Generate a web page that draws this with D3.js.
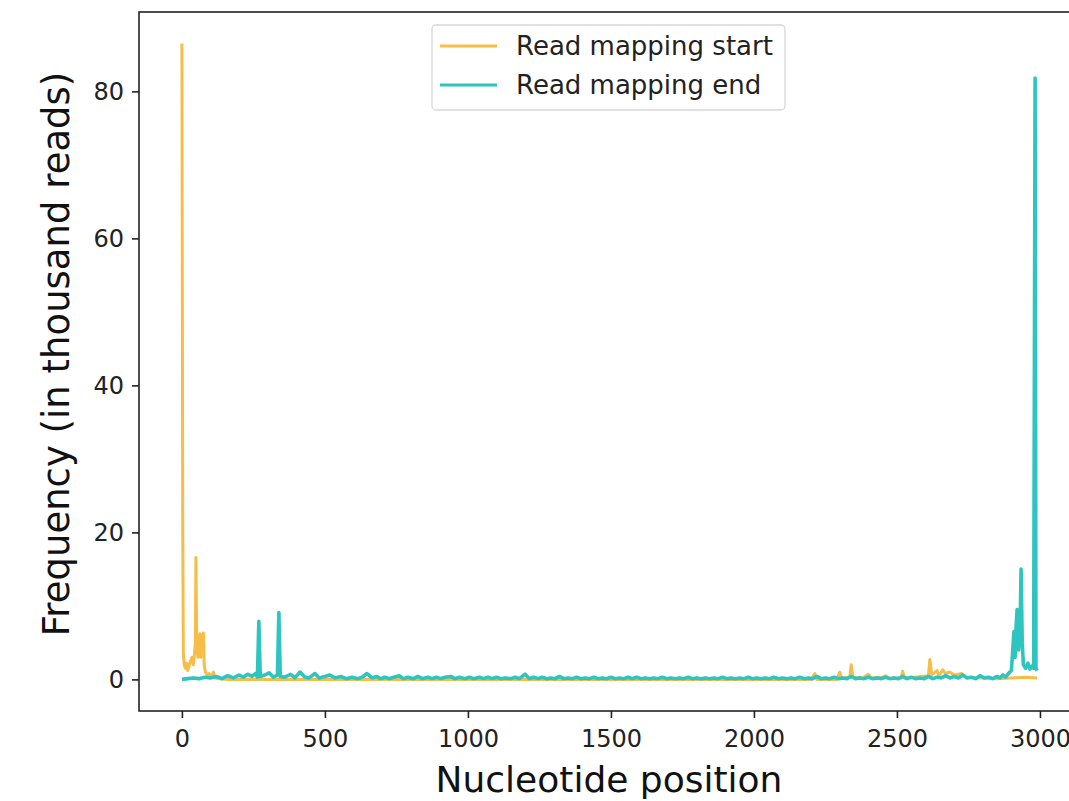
<!DOCTYPE html>
<html>
<head>
<meta charset="utf-8">
<script src="https://cdn.jsdelivr.net/npm/d3@7"></script>
<style>
  body { margin: 0; background: #fff; }
  svg { display: block; font-family: "DejaVu Sans", sans-serif; }
</style>
</head>
<body>
<div id="chart"></div>
<script>
// Read counts (thousand reads) by nucleotide position
const startSeries = [
  [0, 86.5], [3, 20], [5, 3.5], [8, 2.0], [12, 1.5], [16, 2.2], [20, 1.2], [25, 1.8],
  [30, 2.5], [35, 3.0], [40, 2.0], [44, 3.5], [47, 5.0], [49, 16.6], [52, 4.5], [56, 3.0],
  [60, 5.5], [63, 6.2], [66, 3.0], [69, 6.0], [72, 4.0], [75, 6.3], [78, 2.0], [82, 1.0],
  [88, 0.6], [95, 0.8], [102, 0.3], [110, 1.0], [115, 0.2], [130, 0.1], [160, 0],
  [2200, 0], [2213, 0.8], [2220, 0], [2290, 0], [2300, 1.0], [2306, 0.2], [2335, 0.3],
  [2340, 2.0], [2346, 0.3], [2380, 0.2], [2400, 0.7], [2410, 0.2], [2450, 0.3], [2460, 0.5],
  [2470, 0.2], [2515, 0.2], [2520, 1.1], [2526, 0.2], [2560, 0.3], [2610, 0.5], [2615, 2.7],
  [2622, 0.6], [2640, 1.2], [2647, 0.5], [2660, 1.3], [2670, 0.8], [2685, 1.0], [2700, 0.6],
  [2727, 0.8], [2740, 0.3], [2800, 0.2], [2850, 0.1], [2900, 0.2], [2950, 0.3], [2990, 0.2]
];

const endSeries = [
  [0, 0], [20, 0.1], [40, 0.2], [60, 0.1], [80, 0.3], [100, 0.2], [120, 0.4], [140, 0.1],
  [160, 0.5], [180, 0.2], [200, 0.6], [215, 0.3], [230, 0.7], [245, 0.4], [258, 0.8], [264, 0.3],
  [269, 7.9], [274, 0.4], [290, 0.6], [305, 0.9], [320, 0.3], [334, 0.6], [339, 9.1], [344, 0.4],
  [360, 0.3], [380, 0.7], [395, 0.2], [413, 1.0], [430, 0.3], [445, 0.2], [465, 0.8], [480, 0.2],
  [500, 0.4], [517, 0.6], [535, 0.2], [555, 0.4], [575, 0.1], [595, 0.3], [615, 0.1], [630, 0.3],
  [647, 0.8], [665, 0.2], [680, 0.4], [695, 0.1], [710, 0.3], [725, 0.1], [740, 0.3], [760, 0.5],
  [775, 0.1], [790, 0.3], [810, 0.1], [825, 0.4], [840, 0.1], [860, 0.3], [875, 0.1], [890, 0.3],
  [905, 0.1], [920, 0.3], [940, 0.4], [955, 0.1], [970, 0.3], [990, 0.1], [1005, 0.3], [1020, 0.1],
  [1040, 0.3], [1055, 0.1], [1070, 0.3], [1085, 0.1], [1100, 0.3], [1115, 0.1], [1130, 0.2],
  [1150, 0.1], [1165, 0.3], [1180, 0.1], [1200, 0.7], [1215, 0.1], [1230, 0.3], [1245, 0.1],
  [1260, 0.3], [1275, 0.1], [1290, 0.2], [1305, 0.1], [1320, 0.4], [1335, 0.1], [1350, 0.2],
  [1365, 0.1], [1380, 0.3], [1395, 0.1], [1410, 0.2], [1425, 0.1], [1440, 0.3], [1455, 0.1],
  [1470, 0.2], [1485, 0.1], [1500, 0.3], [1515, 0.1], [1530, 0.2], [1545, 0.1], [1560, 0.3],
  [1575, 0.1], [1590, 0.3], [1605, 0.1], [1620, 0.2], [1635, 0.1], [1650, 0.2], [1665, 0.1],
  [1680, 0.3], [1695, 0.1], [1710, 0.2], [1725, 0.1], [1740, 0.2], [1755, 0.1], [1770, 0.3],
  [1785, 0.1], [1800, 0.2], [1815, 0.1], [1830, 0.2], [1845, 0.1], [1860, 0.2], [1875, 0.1],
  [1890, 0.3], [1905, 0.1], [1920, 0.2], [1935, 0.1], [1950, 0.2], [1965, 0.1], [1980, 0.3],
  [1995, 0.1], [2010, 0.2], [2025, 0.1], [2040, 0.2], [2055, 0.1], [2070, 0.3], [2085, 0.1],
  [2100, 0.2], [2115, 0.1], [2130, 0.2], [2145, 0.1], [2160, 0.3], [2175, 0.1], [2190, 0.2],
  [2205, 0.1], [2220, 0.4], [2235, 0.1], [2250, 0.2], [2265, 0.1], [2280, 0.3], [2295, 0.1],
  [2310, 0.2], [2325, 0.1], [2340, 0.4], [2355, 0.1], [2370, 0.2], [2385, 0.1], [2400, 0.3],
  [2415, 0.1], [2430, 0.2], [2445, 0.1], [2460, 0.3], [2475, 0.1], [2490, 0.2], [2505, 0.1],
  [2520, 0.4], [2535, 0.1], [2550, 0.3], [2565, 0.1], [2580, 0.2], [2595, 0.1], [2610, 0.4],
  [2625, 0.1], [2640, 0.3], [2655, 0.2], [2670, 0.5], [2685, 0.2], [2700, 0.4], [2715, 0.2],
  [2730, 0.6], [2745, 0.2], [2760, 0.3], [2775, 0.1], [2790, 0.5], [2805, 0.2], [2820, 0.3],
  [2835, 0.1], [2850, 0.4], [2860, 0.2], [2870, 0.6], [2880, 0.3], [2890, 0.8], [2900, 1.2],
  [2905, 4.0], [2909, 6.5], [2913, 3.0], [2917, 7.5], [2920, 9.5], [2925, 4.0], [2930, 6.0],
  [2934, 15.0], [2938, 5.0], [2942, 2.0], [2950, 1.5], [2958, 2.2], [2965, 1.4], [2972, 1.8],
  [2978, 1.5], [2983, 81.8], [2986, 1.5], [2990, 1.2]
];

const seriesNames = ['Read mapping start', 'Read mapping end'];
const seriesColors = ['#f7bd48', '#2ec4bf'];
const xTicks = [0, 500, 1000, 1500, 2000, 2500, 3000];
const yTicks = [0, 20, 40, 60, 80];

const W = 1069, H = 801;
const plot = { left: 139, top: 12, right: 1080, bottom: 711 };

const svg = d3.select('#chart').append('svg')
  .attr('width', W)
  .attr('height', H);

const x = d3.scaleLinear().domain([-150, 3140]).range([plot.left, plot.right]);
const y = d3.scaleLinear().domain([-4.3, 90.8]).range([plot.bottom, plot.top]);

svg.append('clipPath').attr('id', 'clip')
  .append('rect')
  .attr('x', plot.left).attr('y', plot.top)
  .attr('width', plot.right - plot.left).attr('height', plot.bottom - plot.top);

const line = d3.line().x(d => x(d[0])).y(d => y(d[1]));

const g = svg.append('g').attr('clip-path', 'url(#clip)');
[startSeries, endSeries].forEach((s, i) => {
  g.append('path')
    .datum(s)
    .attr('fill', 'none')
    .attr('stroke', seriesColors[i])
    .attr('stroke-width', i === 0 ? 3 : 3.6)
    .attr('stroke-linejoin', 'round')
    .attr('d', line);
});

// axes
const xAxis = svg.append('g')
  .attr('transform', `translate(0,${plot.bottom})`)
  .call(d3.axisBottom(x).tickValues(xTicks).tickFormat(d3.format('d'))
    .tickSize(7).tickPadding(12).tickSizeOuter(0));
const yAxis = svg.append('g')
  .attr('transform', `translate(${plot.left},0)`)
  .call(d3.axisLeft(y).tickValues(yTicks).tickFormat(d3.format('d'))
    .tickSize(7).tickPadding(8).tickSizeOuter(0));

[xAxis, yAxis].forEach(a => {
  a.select('.domain').remove();
  a.selectAll('line').attr('stroke', '#222').attr('stroke-width', 1.6);
  a.selectAll('text').attr('fill', '#222').style('font-size', '24px')
    .style('font-family', '"DejaVu Sans", sans-serif');
});

// frame
svg.append('rect')
  .attr('x', plot.left).attr('y', plot.top)
  .attr('width', plot.right - plot.left).attr('height', plot.bottom - plot.top)
  .attr('fill', 'none').attr('stroke', '#222').attr('stroke-width', 1.6);

// axis titles
svg.append('text')
  .attr('x', 609).attr('y', 792)
  .attr('text-anchor', 'middle')
  .style('font-size', '36px').attr('fill', '#111')
  .text('Nucleotide position');

svg.append('text')
  .attr('transform', 'translate(69,354) rotate(-90)')
  .attr('text-anchor', 'middle')
  .style('font-size', '37px').attr('fill', '#111')
  .text('Frequency (in thousand reads)');

// legend
const leg = svg.append('g');
leg.append('rect')
  .attr('x', 432).attr('y', 25).attr('width', 353).attr('height', 85)
  .attr('rx', 4)
  .attr('fill', '#fff').attr('fill-opacity', 0.85)
  .attr('stroke', '#d8d8d8').attr('stroke-width', 1.3);

seriesNames.forEach((name, i) => {
  const ly = 46 + i * 39;
  leg.append('line')
    .attr('x1', 440).attr('x2', 497).attr('y1', ly).attr('y2', ly)
    .attr('stroke', seriesColors[i]).attr('stroke-width', 3);
  leg.append('text')
    .attr('x', 516).attr('y', ly + 9)
    .style('font-size', '26px').attr('fill', '#222')
    .text(name);
});
</script>
</body>
</html>
